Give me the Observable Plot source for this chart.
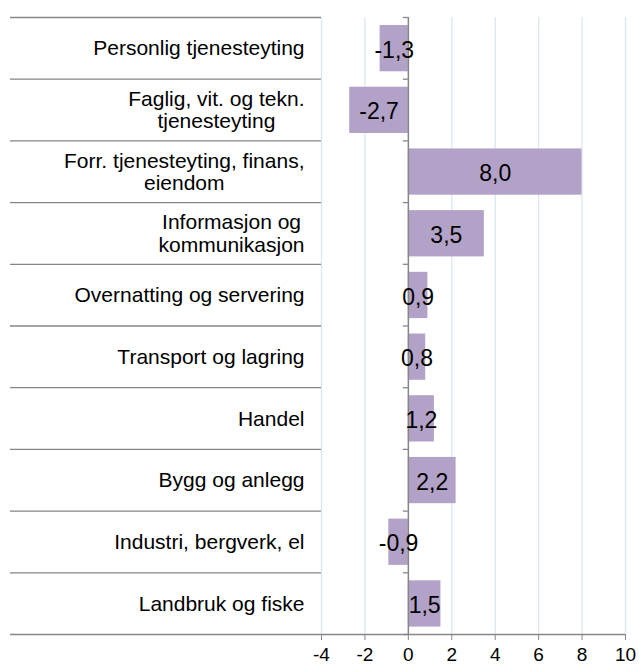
<!DOCTYPE html>
<html>
<head>
<meta charset="utf-8">
<script src="https://cdn.jsdelivr.net/npm/d3@7"></script>
<script src="https://cdn.jsdelivr.net/npm/@observablehq/plot@0.6"></script>
<style>
  html, body { margin: 0; padding: 0; background: #fff; }
  svg { font-family: "Liberation Sans", Arial, sans-serif; }
</style>
</head>
<body>
<div id="chart"></div>
<script>
// Categories, top to bottom
const categories = [
  "Personlig tjenesteyting",
  "Faglig, vit. og tekn.\ntjenesteyting",
  "Forr. tjenesteyting, finans,\neiendom",
  "Informasjon og\nkommunikasjon",
  "Overnatting og servering",
  "Transport og lagring",
  "Handel",
  "Bygg og anlegg",
  "Industri, bergverk, el",
  "Landbruk og fiske"
];
const values = [-1.3, -2.7, 8.0, 3.5, 0.9, 0.8, 1.2, 2.2, -0.9, 1.5];
const xTicks = [-4, -2, 0, 2, 4, 6, 8, 10];

const data = categories.map((name, i) => ({ name, i, value: values[i] }));
const boundaries = d3.range(0, categories.length + 1);

const catFont = 21;
const ctx = document.createElement("canvas").getContext("2d");
ctx.font = `${catFont}px "Liberation Sans", Arial, sans-serif`;
const blockWidth = s => d3.max(s.split("\n"), l => ctx.measureText(l).width);

const labelMarks = data.map(d =>
  Plot.text([d], {
    y: r => r.i + 0.5,
    text: r => r.name,
    frameAnchor: "left",
    textAnchor: "middle",
    dx: -17 - blockWidth(d.name) / 2,
    lineHeight: 1.05,
    fontSize: catFont,
    fill: "#000"
  })
);

const chart = Plot.plot({
  width: 639,
  height: 668,
  marginLeft: 321,
  marginRight: 14,
  marginTop: 17,
  marginBottom: 34,
  x: { domain: [-4, 10], label: null },
  y: { domain: [0, categories.length], reverse: true, axis: null },
  marks: [
    Plot.ruleX(xTicks.filter(t => t !== 0), { stroke: "#dce6f2", strokeWidth: 1.3 }),
    Plot.rect(data, {
      x1: 0, x2: "value",
      y1: d => d.i + 0.13, y2: d => d.i + 0.88,
      fill: "#b3a2c7"
    }),
    Plot.ruleY(boundaries.slice(0, -1), { stroke: "#868686", strokeWidth: 1.3, insetLeft: -311, insetRight: 304 }),
    Plot.ruleY(boundaries.slice(-1), { stroke: "#868686", strokeWidth: 1.3, insetLeft: -311 }),
    Plot.ruleY(boundaries, { x1: 0, x2: 0, insetLeft: -5, stroke: "#868686", strokeWidth: 1.3 }),
    Plot.ruleX([0], { stroke: "#868686", strokeWidth: 1.5 }),
    Plot.text(data, {
      x: d => d.value / 2,
      y: d => d.i + 0.5,
      dy: 2,
      text: d => d.value.toFixed(1).replace(".", ","),
      fontSize: 23,
      fill: "#000"
    }),
    ...labelMarks,
    Plot.axisX(xTicks, {
      tickSize: 6,
      tickPadding: 7,
      stroke: "#868686",
      fill: "#000",
      fontSize: 19,
      label: null,
      tickFormat: d => String(d)
    })
  ]
});
document.getElementById("chart").appendChild(chart);
</script>
</body>
</html>
